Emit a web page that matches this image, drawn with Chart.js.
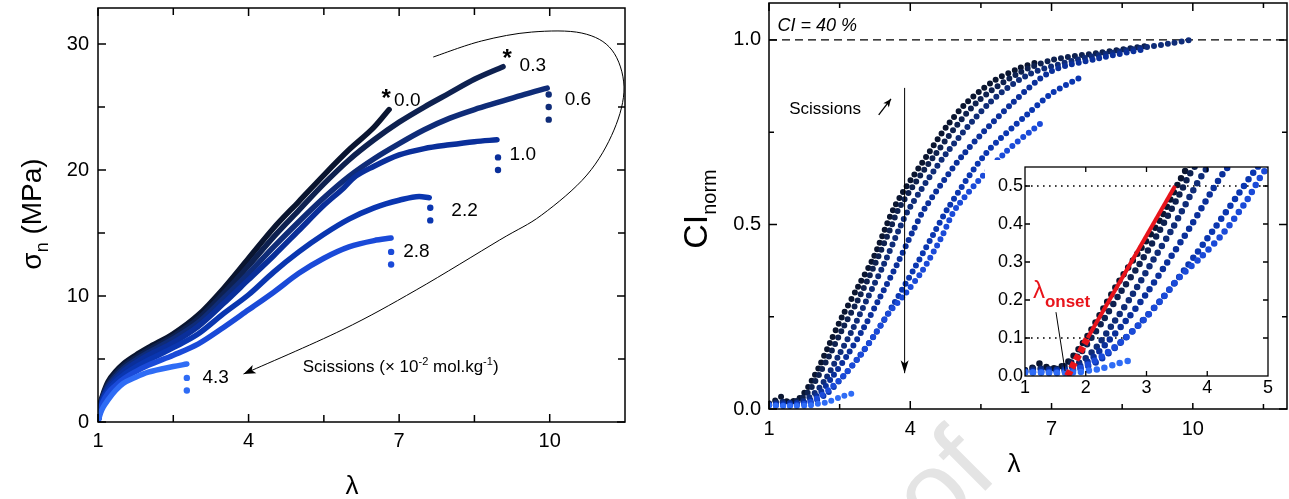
<!DOCTYPE html>
<html>
<head>
<meta charset="utf-8">
<script src="https://cdn.jsdelivr.net/npm/chart.js@4.4.1/dist/chart.umd.min.js"></script>
<style>
  html, body { margin: 0; padding: 0; background: #fff; }
  #wrap { position: relative; width: 1289px; height: 499px; overflow: hidden; background: #fff; }
  canvas { position: absolute; }
</style>
</head>
<body>
<div id="wrap">
  <canvas id="stressChart" width="640" height="499" style="left:0;top:0"></canvas>
  <canvas id="ciChart" width="649" height="499" style="left:640px;top:0"></canvas>
  <canvas id="insetChart" width="290" height="243" style="left:985px;top:160px"></canvas>
</div>
<script>
// scission density of each sample (x 10^-2 mol/kg), darkest to brightest
const scissionLabels = ['0.0', '0.3', '0.6', '1.0', '2.2', '2.8', '4.3'];
const seriesColors = ['#0a1530', '#0e2150', '#0f2c78', '#0a2f9a', '#0a36b0', '#1a4ad8', '#2f6cf5'];

// nominal stress sigma_n (MPa) vs stretch lambda
const stress00 = [[1,0],[1.05,1.5],[1.1,2.2],[1.2,3.2],[1.35,4.0],[1.5,4.6],[1.75,5.3],[2,5.9],[2.5,7.0],[3,8.5],[3.5,10.6],[4,13.0],[4.5,15.4],[5,17.5],[5.5,19.6],[6,21.6],[6.5,23.4],[6.8,24.8]];
const stress03 = [[1,0],[1.05,1.4],[1.1,2.1],[1.2,3.0],[1.35,3.8],[1.5,4.4],[1.75,5.1],[2,5.7],[2.5,6.8],[3,8.2],[3.5,10.2],[4,12.4],[4.5,14.7],[5,16.8],[5.5,18.9],[6,20.8],[6.5,22.4],[7,23.8],[7.5,25.0],[8,26.1],[8.5,27.2],[9.07,28.2]];
const stress06 = [[1,0],[1.05,1.3],[1.1,2.0],[1.2,2.85],[1.35,3.6],[1.5,4.2],[1.75,4.9],[2,5.5],[2.5,6.6],[3,7.9],[3.5,9.8],[4,11.8],[4.5,13.9],[5,15.9],[5.5,17.8],[6,19.5],[6.5,20.9],[7,22.1],[7.5,23.2],[8,24.1],[8.5,24.8],[9,25.4],[9.5,26.0],[9.95,26.5]];
const stress10 = [[1,0],[1.05,1.2],[1.1,1.9],[1.2,2.7],[1.35,3.4],[1.5,4.0],[1.75,4.7],[2,5.3],[2.5,6.3],[3,7.6],[3.5,9.4],[4,11.3],[4.5,13.2],[5,15.2],[5.5,17.2],[5.9,18.6],[6.1,19.4],[6.5,20.3],[7,21.2],[7.5,21.7],[8,22.0],[8.5,22.25],[8.95,22.4]];
const stress22 = [[1,0],[1.05,1.1],[1.1,1.8],[1.2,2.5],[1.35,3.2],[1.5,3.7],[1.75,4.35],[2,4.9],[2.5,5.9],[3,7.0],[3.5,8.6],[4,10.1],[4.5,11.9],[5,13.5],[5.5,14.9],[6,16.1],[6.5,17.0],[7,17.6],[7.4,17.9],[7.6,17.8]];
const stress28 = [[1,0],[1.05,1.0],[1.1,1.6],[1.2,2.3],[1.35,2.9],[1.5,3.4],[1.75,4.0],[2,4.5],[2.5,5.3],[3,6.2],[3.5,7.5],[4,8.9],[4.5,10.3],[5,11.8],[5.5,13.0],[6,13.9],[6.5,14.4],[6.84,14.6]];
const stress43 = [[1,0],[1.05,0.7],[1.1,1.15],[1.2,1.75],[1.35,2.5],[1.5,3.05],[1.75,3.55],[2,3.95],[2.5,4.4],[2.77,4.6]];

// points recorded while the sample breaks
const drop06 = [[9.98,26.0],[9.98,25.0],[9.98,24.0]];
const drop10 = [[8.97,21.0],[8.97,20.0]];
const drop22 = [[7.62,17.0],[7.62,16.0]];
const drop28 = [[6.84,13.5],[6.84,12.5]];
const drop43 = [[2.77,3.5],[2.77,2.5]];

// normalised crystallinity index CI_norm vs lambda
const ci00 = [[1.0,0.015],[1.1,0.02],[1.25,0.033],[1.4,0.02],[1.6,0.025],[1.74,0.042],[1.91,0.077],[2.07,0.116],[2.29,0.178],[2.56,0.252],[2.89,0.331],[3.22,0.41],[3.52,0.506],[3.66,0.546],[3.85,0.589],[4.34,0.684],[4.77,0.765],[5.19,0.829],[5.75,0.887],[6.31,0.923],[6.7,0.94]];
const ci03 = [[1.0,0.015],[1.2,0.02],[1.5,0.018],[1.74,0.033],[1.91,0.06],[2.07,0.095],[2.29,0.147],[2.56,0.217],[2.89,0.296],[3.22,0.384],[3.55,0.48],[3.77,0.546],[4.55,0.693],[5.4,0.829],[6.3,0.91],[7.0,0.945],[8.0,0.965],[9.07,0.985]];
const ci06 = [[1.0,0.012],[1.3,0.018],[1.6,0.015],[1.96,0.042],[2.18,0.077],[2.45,0.138],[2.78,0.217],[3.11,0.305],[3.44,0.392],[3.77,0.489],[3.99,0.546],[4.77,0.693],[5.68,0.829],[6.5,0.905],[7.5,0.945],[8.5,0.97],[9.5,0.99],[9.95,1.0]];
const ci10 = [[1.0,0.012],[1.4,0.015],[1.8,0.02],[2.07,0.042],[2.34,0.086],[2.67,0.147],[3.0,0.217],[3.33,0.296],[3.72,0.392],[4.05,0.48],[4.32,0.546],[5.15,0.693],[6.17,0.829],[7.0,0.915],[8.0,0.95],[8.97,0.975]];
const ci22 = [[1.0,0.01],[1.5,0.012],[1.9,0.018],[2.23,0.042],[2.56,0.086],[2.89,0.138],[3.28,0.208],[3.66,0.287],[4.1,0.384],[4.48,0.471],[4.81,0.546],[5.61,0.693],[6.5,0.8],[7.0,0.855],[7.58,0.896]];
const ci28 = [[1.0,0.01],[1.5,0.01],[1.8,0.015],[2.07,0.033],[2.34,0.06],[2.62,0.095],[2.95,0.147],[3.28,0.208],[3.55,0.261],[3.88,0.31],[4.26,0.375],[4.65,0.462],[4.98,0.546],[6.0,0.693],[6.83,0.78]];
const ci43 = [[1.0,0.01],[1.4,0.008],[1.9,0.01],[2.1,0.016],[2.23,0.018],[2.51,0.032],[2.78,0.043]];

// linear fit used to define lambda_onset (inset)
const onsetFit = [[1.70,0.0],[2.03,0.1],[3.47,0.5]];
const ciPlateau = 1.0;
const insetGuides = [[0.5, 5], [0.1, 2.7]];   // [level, lambda end]

// tick labels
const stressTicksX = [1, 4, 7, 10];
const stressTicksY = [0, 10, 20, 30];
const stressMinorX = [2.5, 5.5, 8.5];
const stressMinorY = [5, 15, 25];
const ciTicksX = [1, 4, 7, 10];
const ciTicksY = [0, 0.5, 1.0];
const ciMinorX = [2.5, 5.5, 8.5, 11.5];
const ciMinorY = [0.25, 0.75];
const insetTicksX = [1, 2, 3, 4, 5];
const insetTicksY = [0, 0.1, 0.2, 0.3, 0.4, 0.5];

// annotation anchors (data units)
const stressLabelAt = [[6.9,25.5],[9.4,28.3],[10.3,25.6],[9.2,21.2],[8.04,16.75],[7.08,13.5],[3.08,3.5]];
const asteriskAt = [[6.74,25.9],[9.15,29.1]];
const scissionLoop = [[7.68,28.97],[8.64,30.24],[9.64,30.95],[10.64,30.87],[11.24,29.52],[11.48,26.59],[11.28,23.17],[10.74,19.6],[9.84,16.43],[9.0,14.44],[7.34,10.48],[5.86,7.3],[3.9,3.81]];

const FONT = 'Liberation Sans, Arial, sans-serif';
Chart.defaults.font.family = FONT;
Chart.defaults.color = '#000';

const stressSeries = [stress00, stress03, stress06, stress10, stress22, stress28, stress43];
const stressDrops = [[], [], drop06, drop10, drop22, drop28, drop43];
const ciSeries = [ci00, ci03, ci06, ci10, ci22, ci28, ci43];

function axis(min, max, ticks, fmt, size, pad, fit) {
  return {
    type: 'linear', min: min, max: max,
    grid: { display: false, drawTicks: false },
    border: { display: false },
    afterBuildTicks: s => { s.ticks = ticks.map(v => ({ value: v })); },
    afterFit: s => {
      fit(s);
      s.paddingTop = 0; s.paddingBottom = 0; s.paddingLeft = 0; s.paddingRight = 0;
    },
    ticks: { padding: pad, autoSkip: false, maxRotation: 0, font: { size: size }, callback: fmt }
  };
}

function rich(ctx, parts, x, y, align) {
  let w = 0;
  for (const p of parts) { ctx.font = p.font; w += ctx.measureText(p.t).width; }
  let cx = align === 'center' ? x - w / 2 : (align === 'right' ? x - w : x);
  ctx.textAlign = 'left';
  ctx.textBaseline = 'alphabetic';
  for (const p of parts) {
    ctx.font = p.font;
    ctx.fillStyle = p.color || '#000';
    ctx.fillText(p.t, cx, y + (p.dy || 0));
    cx += ctx.measureText(p.t).width;
  }
}

function label(ctx, t, x, y, font, align) {
  ctx.font = font;
  ctx.fillStyle = '#000';
  ctx.textAlign = align || 'left';
  ctx.textBaseline = 'middle';
  ctx.fillText(t, x, y);
}

function arrowHead(ctx, from, to, len, half) {
  const a = Math.atan2(to[1] - from[1], to[0] - from[0]);
  ctx.beginPath();
  ctx.moveTo(to[0], to[1]);
  ctx.lineTo(to[0] - len * Math.cos(a) + half * Math.sin(a), to[1] - len * Math.sin(a) - half * Math.cos(a));
  ctx.lineTo(to[0] - len * Math.cos(a) * 0.75, to[1] - len * Math.sin(a) * 0.75);
  ctx.lineTo(to[0] - len * Math.cos(a) - half * Math.sin(a), to[1] - len * Math.sin(a) + half * Math.cos(a));
  ctx.closePath();
  ctx.fill();
}

function smoothPath(ctx, p) {
  ctx.beginPath();
  ctx.moveTo(p[0][0], p[0][1]);
  for (let i = 0; i < p.length - 1; i++) {
    const p0 = p[Math.max(i - 1, 0)], p1 = p[i], p2 = p[i + 1], p3 = p[Math.min(i + 2, p.length - 1)];
    ctx.bezierCurveTo(p1[0] + (p2[0] - p0[0]) / 6, p1[1] + (p2[1] - p0[1]) / 6,
                      p2[0] - (p3[0] - p1[0]) / 6, p2[1] - (p3[1] - p1[1]) / 6, p2[0], p2[1]);
  }
}

// box round the plot and inward ticks on all four sides
const framePlugin = {
  id: 'frame',
  afterDatasetsDraw(chart, args, o) {
    const { ctx, chartArea: a, scales: { x, y } } = chart;
    ctx.save();
    ctx.strokeStyle = '#000';
    ctx.lineWidth = o.width;
    ctx.strokeRect(a.left, a.top, a.right - a.left, a.bottom - a.top);
    ctx.beginPath();
    const xs = o.xMajor.map(v => [v, o.major]).concat(o.xMinor.map(v => [v, o.minor]));
    const ys = o.yMajor.map(v => [v, o.major]).concat(o.yMinor.map(v => [v, o.minor]));
    for (const [v, len] of xs) {
      const px = x.getPixelForValue(v);
      ctx.moveTo(px, a.bottom); ctx.lineTo(px, a.bottom - len);
      ctx.moveTo(px, a.top); ctx.lineTo(px, a.top + len);
    }
    for (const [v, len] of ys) {
      const py = y.getPixelForValue(v);
      ctx.moveTo(a.left, py); ctx.lineTo(a.left + len, py);
      ctx.moveTo(a.right, py); ctx.lineTo(a.right - len, py);
    }
    ctx.stroke();
    ctx.restore();
  }
};

// ---------- left: stress-strain ----------
const stressNotes = {
  id: 'stressNotes',
  afterDraw(chart) {
    const { ctx, scales: { x, y } } = chart;
    const P = (l, s) => [x.getPixelForValue(l), y.getPixelForValue(s)];
    ctx.save();
    scissionLabels.forEach((t, i) => {
      const [px, py] = P(stressLabelAt[i][0], stressLabelAt[i][1]);
      label(ctx, t, px, py, '19px ' + FONT);
    });
    asteriskAt.forEach(([l, s]) => {
      const [px, py] = P(l, s);
      label(ctx, '*', px, py + 4, 'bold 24px ' + FONT, 'center');
    });
    // curved arrow: scissions increase
    const pts = scissionLoop.map(([l, s]) => P(l, s));
    ctx.strokeStyle = '#000';
    ctx.lineWidth = 1;
    smoothPath(ctx, pts);
    ctx.stroke();
    ctx.fillStyle = '#000';
    arrowHead(ctx, pts[pts.length - 2], pts[pts.length - 1], 12, 4.5);
    const [sx, sy] = P(5.08, 4.44);
    rich(ctx, [
      { t: 'Scissions (\u00d7 10', font: '17px ' + FONT },
      { t: '-2', font: '11px ' + FONT, dy: -7 },
      { t: ' mol.kg', font: '17px ' + FONT },
      { t: '-1', font: '11px ' + FONT, dy: -7 },
      { t: ')', font: '17px ' + FONT }
    ], sx, sy + 6, 'left');
    // axis titles
    label(ctx, '\u03bb', 352, 487, '26px ' + FONT, 'center');
    ctx.translate(31, 214);
    ctx.rotate(-Math.PI / 2);
    rich(ctx, [
      { t: '\u03c3', font: '28px ' + FONT },
      { t: 'n', font: '18px ' + FONT, dy: 7 },
      { t: ' (MPa)', font: '28px ' + FONT }
    ], 0, 10, 'center');
    ctx.restore();
  }
};

const stressDatasets = [];
stressSeries.forEach((d, i) => {
  stressDatasets.push({
    data: d, borderColor: seriesColors[i], borderWidth: 5.5, pointRadius: 0,
    cubicInterpolationMode: 'monotone', borderCapStyle: 'round', order: 20 - i
  });
  if (stressDrops[i].length) {
    stressDatasets.push({
      data: stressDrops[i], showLine: false, pointRadius: 3.2, pointBorderWidth: 0,
      pointBackgroundColor: seriesColors[i], order: 10 - i
    });
  }
});

new Chart(document.getElementById('stressChart'), {
  type: 'line',
  data: { datasets: stressDatasets },
  options: {
    responsive: false, animation: false,
    layout: { padding: { left: 0, right: 15, top: 8, bottom: 0 } },
    plugins: {
      legend: { display: false }, tooltip: { enabled: false },
      frame: { width: 1.5, major: 8, minor: 7, xMajor: stressTicksX, xMinor: stressMinorX, yMajor: stressTicksY, yMinor: stressMinorY }
    },
    scales: {
      x: axis(1, 11.5, stressTicksX, v => String(v), 20, 7, s => { s.height = 77; }),
      y: axis(0, 32.86, stressTicksY, v => String(v), 20, 9, s => { s.width = 98; })
    }
  },
  plugins: [framePlugin, stressNotes]
});

// ---------- right: crystallinity ----------
const ciNotes = {
  id: 'ciNotes',
  beforeDraw(chart) {
    const { ctx } = chart;
    ctx.save();
    ctx.translate(360, 476);
    ctx.rotate(-Math.PI / 4);
    ctx.font = '110px ' + FONT;
    ctx.fillStyle = '#e4e4e4';
    ctx.textAlign = 'right';
    ctx.textBaseline = 'alphabetic';
    ctx.fillText('Pre-proof', 0, 0);
    ctx.restore();
  },
  afterDraw(chart) {
    const { ctx, scales: { x, y } } = chart;
    const P = (l, c) => [x.getPixelForValue(l), y.getPixelForValue(c)];
    ctx.save();
    let [px, py] = P(1.18, 1.038);
    label(ctx, 'CI = 40 %', px, py, 'italic 18px ' + FONT);
    [px, py] = P(1.43, 0.813);
    label(ctx, 'Scissions', px, py, '17px ' + FONT);
    ctx.strokeStyle = '#000';
    ctx.fillStyle = '#000';
    ctx.lineWidth = 1.3;
    const a0 = P(3.33, 0.797), a1 = P(3.59, 0.84);
    ctx.beginPath(); ctx.moveTo(a0[0], a0[1]); ctx.lineTo(a1[0], a1[1]); ctx.stroke();
    arrowHead(ctx, a0, a1, 8, 3.5);
    ctx.lineWidth = 1;
    const v0 = P(3.88, 0.87), v1 = P(3.88, 0.097);
    ctx.beginPath(); ctx.moveTo(v0[0], v0[1]); ctx.lineTo(v1[0], v1[1]); ctx.stroke();
    arrowHead(ctx, v0, v1, 13, 4);
    label(ctx, '\u03bb', 374, 465, '26px ' + FONT, 'center');
    ctx.translate(55, 209);
    ctx.rotate(-Math.PI / 2);
    rich(ctx, [
      { t: 'CI', font: '34px ' + FONT },
      { t: 'norm', font: '20px ' + FONT, dy: 9 }
    ], 0, 12, 'center');
    ctx.restore();
  }
};

const ciDatasets = ciSeries.map((d, i) => ({
  data: d, borderColor: seriesColors[i], borderWidth: 6, borderDash: [0, 7],
  borderCapStyle: 'round', pointRadius: 0, tension: 0.3, order: 20 - i
}));
ciDatasets.push({
  data: [[1, ciPlateau], [12, ciPlateau]], borderColor: '#000', borderWidth: 1.3,
  borderDash: [8, 5], pointRadius: 0, order: 30
});

new Chart(document.getElementById('ciChart'), {
  type: 'line',
  data: { datasets: ciDatasets },
  options: {
    responsive: false, animation: false,
    layout: { padding: { left: 0, right: 2, top: 3, bottom: 0 } },
    plugins: {
      legend: { display: false }, tooltip: { enabled: false },
      frame: { width: 1.5, major: 8, minor: 5, xMajor: ciTicksX, xMinor: ciMinorX, yMajor: ciTicksY, yMinor: ciMinorY }
    },
    scales: {
      x: axis(1, 12, ciTicksX, v => String(v), 20, 8, s => { s.height = 90; }),
      y: axis(0, 1.1, ciTicksY, v => v.toFixed(1), 20, 8, s => { s.width = 129; })
    }
  },
  plugins: [framePlugin, ciNotes]
});

// ---------- inset: onset of crystallisation ----------
const insetNotes = {
  id: 'insetNotes',
  beforeDraw(chart) {
    const { ctx, width, height } = chart;
    ctx.save();
    ctx.fillStyle = '#fff';
    ctx.fillRect(0, 0, width, height);
    ctx.restore();
  },
  afterDraw(chart) {
    const { ctx, scales: { x, y } } = chart;
    const P = (l, c) => [x.getPixelForValue(l), y.getPixelForValue(c)];
    ctx.save();
    const [px, py] = P(1.13, 0.226);
    rich(ctx, [
      { t: '\u03bb', font: '24px ' + FONT, color: '#e8141b' },
      { t: 'onset', font: 'bold 17px ' + FONT, color: '#e8141b', dy: 9 }
    ], px, py + 8, 'left');
    const l0 = P(1.51, 0.168), l1 = P(1.66, 0.013);
    ctx.strokeStyle = '#000';
    ctx.lineWidth = 1;
    ctx.beginPath(); ctx.moveTo(l0[0], l0[1]); ctx.lineTo(l1[0], l1[1]); ctx.stroke();
    ctx.restore();
  }
};

const insetDatasets = ciSeries.map((d, i) => ({
  data: d, borderColor: seriesColors[i], borderWidth: 6.5, borderDash: [0, 8],
  borderCapStyle: 'round', pointRadius: 0, tension: 0.3, order: 20 - i,
  clip: { left: 0, top: 0, right: 0, bottom: 6 }
}));
insetGuides.forEach(([level, end]) => {
  insetDatasets.push({
    data: [[1, level], [end, level]], borderColor: '#000', borderWidth: 1.6,
    borderDash: [1.6, 4.4], pointRadius: 0, order: 30
  });
});
insetDatasets.push({
  data: onsetFit.slice(0, 2), borderColor: '#e8141b', borderWidth: 7,
  borderDash: [6, 3], pointRadius: 0, order: -2
});
insetDatasets.push({
  data: onsetFit.slice(1), borderColor: '#e8141b', borderWidth: 4,
  pointRadius: 0, order: -3
});

new Chart(document.getElementById('insetChart'), {
  type: 'line',
  data: { datasets: insetDatasets },
  options: {
    responsive: false, animation: false,
    layout: { padding: { left: 0, right: 7, top: 7, bottom: 0 } },
    plugins: {
      legend: { display: false }, tooltip: { enabled: false },
      frame: { width: 1.3, major: 5, minor: 5, xMajor: insetTicksX.slice(1, -1), xMinor: [], yMajor: insetTicksY.slice(1), yMinor: [] }
    },
    scales: {
      x: axis(1, 5, insetTicksX, v => String(v), 18, 1, s => { s.height = 27; }),
      y: axis(0, 0.55, insetTicksY, v => v.toFixed(1), 18, 2, s => { s.width = 40; })
    }
  },
  plugins: [framePlugin, insetNotes]
});
</script>
</body>
</html>
